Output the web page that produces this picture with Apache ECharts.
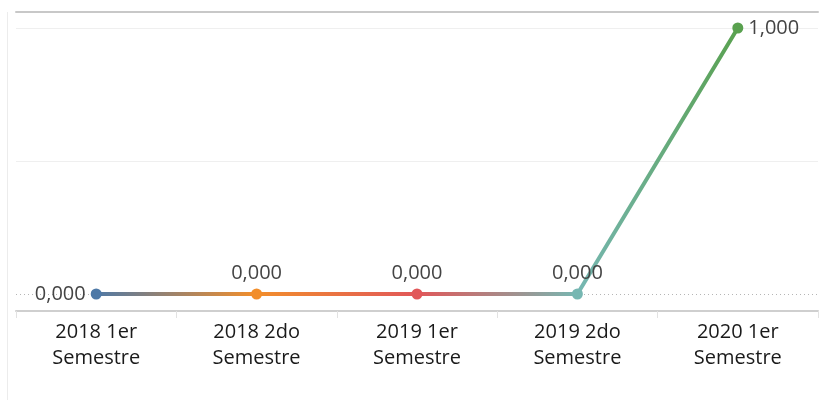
<!DOCTYPE html>
<html>
<head>
<meta charset="utf-8">
<script src="https://cdn.jsdelivr.net/npm/echarts@6/dist/echarts.min.js"></script>
<style>
  html, body { margin: 0; padding: 0; background: #fff; }
  #chart { width: 828px; height: 400px; }
</style>
</head>
<body>
<div id="chart"></div>
<script>
const categories = ['2018 1er\nSemestre', '2018 2do\nSemestre', '2019 1er\nSemestre', '2019 2do\nSemestre', '2020 1er\nSemestre']
const values = [0, 0, 0, 0, 1]
const pointColors = ['#4e79a7', '#f28e2b', '#e15759', '#76b7b2', '#59a14f']
const labelPositions = ['left', 'top', 'top', 'top', 'right']

const chart = echarts.init(document.getElementById('chart'))

const fmt = v => v.toFixed(3).replace('.', ',')

const option = {
  animation: false,
  grid: {left: 16, right: 10, top: 12, bottom: 89},
  graphic: [
    {type: 'line', shape: {x1: 7.5, y1: 12, x2: 7.5, y2: 400}, style: {stroke: '#ececec', lineWidth: 1}, silent: true}
  ],
  xAxis: [
    {
      type: 'category',
      data: categories,
      boundaryGap: true,
      axisLine: {onZero: false, lineStyle: {color: '#cfcfcf', width: 2}},
      axisTick: {show: true, length: 7, lineStyle: {color: '#e2e2e2'}},
      axisLabel: {
        color: '#1a1a1a',
        fontFamily: 'Open Sans',
        fontSize: 20,
        lineHeight: 26,
        margin: 8
      }
    },
    {
      type: 'category',
      position: 'top',
      data: categories,
      axisLine: {show: true, onZero: false, lineStyle: {color: '#c8c8c8', width: 2}},
      axisTick: {show: false},
      axisLabel: {show: false}
    }
  ],
  yAxis: {
    type: 'value',
    min: -0.0639,
    max: 1.0602,
    show: false,
    splitLine: {show: false}
  },
  series: [
    {
      type: 'line',
      data: values.map((v, i) => ({
        value: v,
        itemStyle: {color: pointColors[i]},
        label: {position: labelPositions[i]}
      })),
      symbol: 'circle',
      symbolSize: 11,
      lineStyle: {
        width: 4,
        color: new echarts.graphic.LinearGradient(0, 0, 1, 0, pointColors.map((c, i) => ({offset: i / (pointColors.length - 1), color: c})))
      },
      label: {
        show: true,
        color: '#444',
        fontFamily: 'Open Sans',
        fontSize: 20,
        distance: 5,
        formatter: p => fmt(p.value)
      },
      z: 5,
      markLine: {
        silent: true,
        symbol: 'none',
        label: {show: false},
        data: [
          {yAxis: 1, lineStyle: {color: '#efefef', type: 'solid', width: 1}},
          {yAxis: 0.5, lineStyle: {color: '#efefef', type: 'solid', width: 1}},
          {yAxis: 0, lineStyle: {color: '#b5b5b5', type: [1, 3], width: 1}}
        ]
      }
    }
  ]
}

chart.setOption(option)
</script>
</body>
</html>
